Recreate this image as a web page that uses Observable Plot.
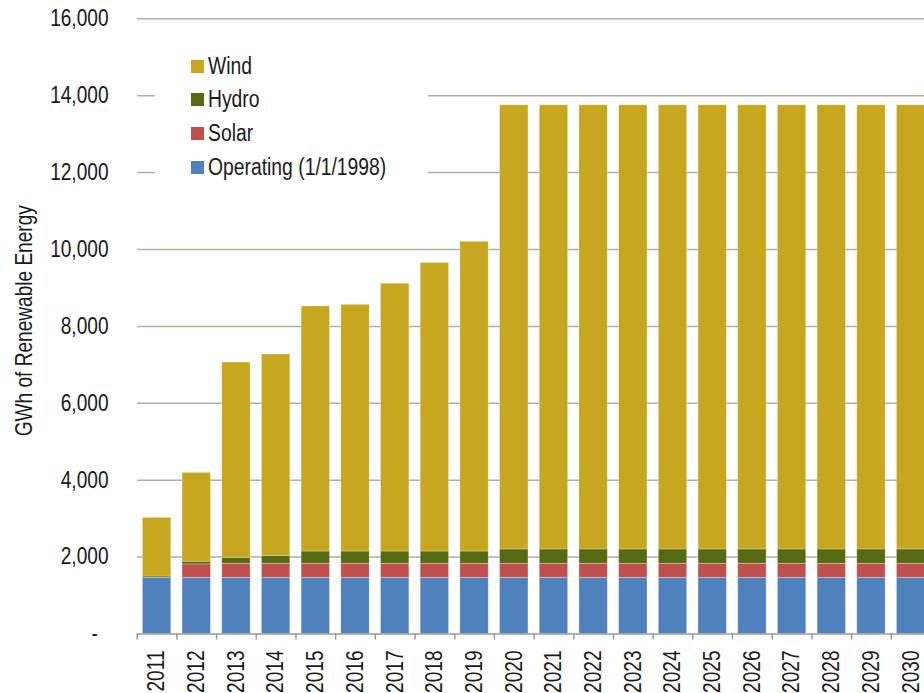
<!DOCTYPE html>
<html>
<head>
<meta charset="utf-8">
<script src="https://cdn.jsdelivr.net/npm/d3@7"></script>
<script src="https://cdn.jsdelivr.net/npm/@observablehq/plot@0.6"></script>
<style>
  html, body { margin: 0; padding: 0; background: white; }
  #chart { position: relative; width: 924px; height: 693px; overflow: hidden; }
  .legend {
    position: absolute; left: 155px; top: 42px; width: 273px; height: 146px;
    background: white; font-family: 'Liberation Sans Narrow', 'Arial Narrow', 'Liberation Sans', Arial, sans-serif;
    font-size: 23px; color: #1a1a1a;
  }
  .legend .item { position: absolute; left: 36px; height: 24px; display: flex; align-items: center; white-space: nowrap; }
  .legend .sw { width: 13px; height: 13px; margin-right: 4px; flex: none; }
  .legend .lab { display: inline-block; transform: scaleX(0.84); transform-origin: left center; }
</style>
</head>
<body>
<div id="chart"></div>
<script>
// Renewable energy by source and year (GWh)
const years = [2011, 2012, 2013, 2014, 2015, 2016, 2017, 2018, 2019, 2020,
               2021, 2022, 2023, 2024, 2025, 2026, 2027, 2028, 2029, 2030];
const operating = [1460, 1460, 1460, 1460, 1460, 1460, 1460, 1460, 1460, 1460,
                   1460, 1460, 1460, 1460, 1460, 1460, 1460, 1460, 1460, 1460];
const solar = [0, 350, 365, 365, 365, 365, 365, 365, 365, 365,
               365, 365, 365, 365, 365, 365, 365, 365, 365, 365];
const hydro = [35, 70, 155, 200, 320, 320, 320, 320, 320, 375,
               375, 375, 375, 375, 375, 375, 375, 375, 375, 375];
const wind = [1525, 2310, 5080, 5245, 6375, 6415, 6965, 7505, 8055, 11550,
              11550, 11550, 11550, 11550, 11550, 11550, 11550, 11550, 11550, 11550];

// Stacking order, bottom to top
const seriesNames = ["Operating (1/1/1998)", "Solar", "Hydro", "Wind"];
const seriesColors = ["#4F81BD", "#C0504D", "#566B11", "#C6A71F"];
const seriesValues = [operating, solar, hydro, wind];

const yTicks = [0, 2000, 4000, 6000, 8000, 10000, 12000, 14000, 16000];
const yTitle = "GWh of Renewable Energy";

const table = seriesNames.flatMap((name, i) =>
  years.map((year, j) => ({year, series: name, value: seriesValues[i][j]}))
);
const boundaries = [years[0] - 0.5, ...years.map(y => y + 0.5)];

const fontFamily = "'Liberation Sans Narrow', 'Arial Narrow', 'Liberation Sans', Arial, sans-serif";
const fmt = d3.format(",");
// horizontal squeeze that gives the regular sans a narrow look
const narrow = 0.83;

const chart = Plot.plot({
  width: 924,
  height: 693,
  marginLeft: 137,
  marginRight: 0,
  marginTop: 18,
  marginBottom: 59.5,
  style: {fontFamily, fontSize: "23px", color: "#1a1a1a", background: "white"},
  x: {domain: [2010.5, 2030.5], range: [136.7, 930.5], axis: null},
  y: {domain: [0, 16000], range: [633.5, 18.3], axis: null},
  color: {domain: seriesNames, range: seriesColors},
  marks: [
    Plot.ruleY(yTicks.filter(d => d > 0), {stroke: "#B5AE9F", strokeWidth: 1.5}),
    Plot.rectY(table, Plot.stackY({
      x1: d => d.year - 0.5,
      x2: d => d.year + 0.5,
      y: "value",
      fill: "series",
      order: seriesNames,
      insetLeft: 5.65,
      insetRight: 5.65,
      stroke: "white",
      strokeOpacity: 0.35,
      strokeWidth: 0.8
    })),
    Plot.ruleY([0], {stroke: "#9a9a9a", strokeWidth: 1.5}),
    Plot.axisX({ticks: boundaries, tickSize: 6, tickFormat: () => "", label: null, stroke: "#9a9a9a", strokeWidth: 1.5}),
    Plot.text(years, {
      x: d => d, y: 0, text: d => String(d),
      rotate: -90, textAnchor: "end", lineAnchor: "middle",
      dy: 16.5, fontSize: 23, fill: "#1a1a1a"
    }),
    Plot.axisY({
      ticks: yTicks, tickSize: 0, tickPadding: 29, fontSize: 23, label: null,
      tickFormat: d => d === 0 ? "-\u00a0\u00a0" : fmt(d)
    }),
    Plot.text([yTitle], {
      frameAnchor: "left", rotate: -90, textAnchor: "middle", lineAnchor: "middle",
      dx: -112.5, dy: -5.5, fontSize: 23, fill: "#1a1a1a"
    })
  ]
});

// squeeze every text along its own baseline, about its anchor point
chart.querySelectorAll("text").forEach(t => {
  const x = parseFloat(t.getAttribute("x")) || 0;
  const y = parseFloat(t.getAttribute("y")) || 0;
  const tr = t.getAttribute("transform") || "";
  t.setAttribute("transform", `${tr} translate(${x},${y}) scale(${narrow},1) translate(${-x},${-y})`);
});

const root = document.getElementById("chart");
root.appendChild(chart);

// Legend, listed top to bottom as Wind, Hydro, Solar, Operating
const legend = document.createElement("div");
legend.className = "legend";
[...seriesNames].reverse().forEach((name, k) => {
  const idx = seriesNames.indexOf(name);
  const item = document.createElement("div");
  item.className = "item";
  item.style.top = (12.3 + k * 33.6) + "px";
  const sw = document.createElement("span");
  sw.className = "sw";
  sw.style.background = seriesColors[idx];
  const label = document.createElement("span");
  label.className = "lab";
  label.textContent = name;
  item.appendChild(sw);
  item.appendChild(label);
  legend.appendChild(item);
});
root.appendChild(legend);
</script>
</body>
</html>
